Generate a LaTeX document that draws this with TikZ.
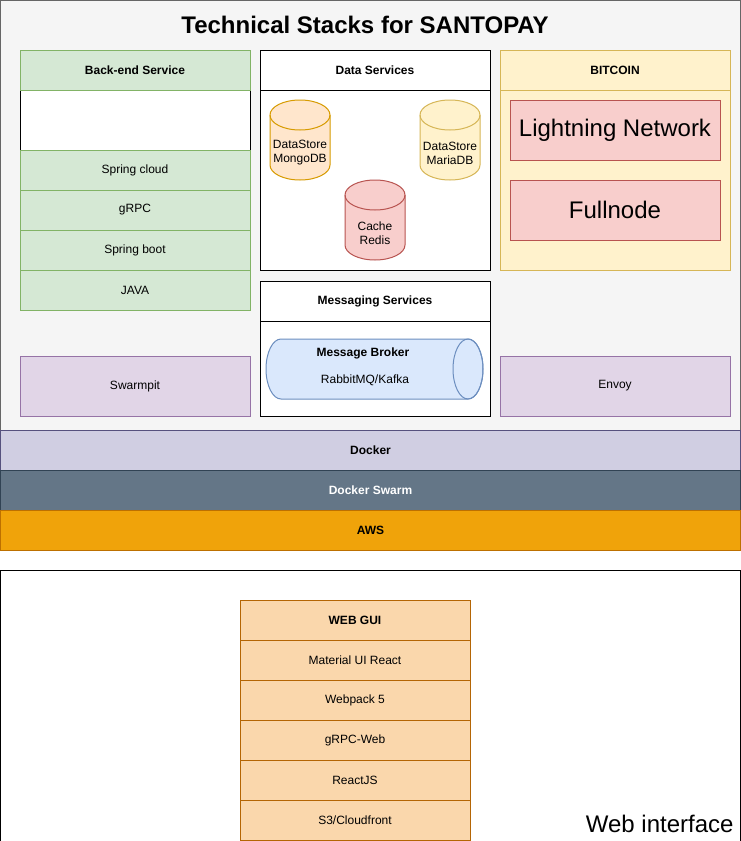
\documentclass[tikz,border=0pt]{standalone}
\usepackage{fontspec}
\setmainfont{Liberation Sans}
\begin{document}
\begin{tikzpicture}[x=1pt, y=-1pt, line width=1pt,
  box/.style={draw, minimum width=#1, minimum height=40pt, inner sep=0pt, font=\fontsize{12}{14}\selectfont},
  box/.default=230pt,
  head/.style={box=#1, font=\fontsize{12}{14}\selectfont\bfseries},
  head/.default=230pt,
  band/.style={draw, minimum width=740pt, minimum height=40pt, inner sep=0pt, font=\fontsize{12}{14}\selectfont\bfseries},
  lbl/.style={align=center, inner sep=0pt, font=\fontsize{12}{14}\selectfont}]
  \definecolor{grayfill}{HTML}{F5F5F5}
  \definecolor{graystroke}{HTML}{666666}
  \definecolor{greenfill}{HTML}{D5E8D4}
  \definecolor{greenstroke}{HTML}{82B366}
  \definecolor{yellowfill}{HTML}{FFF2CC}
  \definecolor{yellowstroke}{HTML}{D6B656}
  \definecolor{redfill}{HTML}{F8CECC}
  \definecolor{redstroke}{HTML}{B85450}
  \definecolor{orangefill}{HTML}{FFE6CC}
  \definecolor{orangestroke}{HTML}{D79B00}
  \definecolor{bluefill}{HTML}{DAE8FC}
  \definecolor{bluestroke}{HTML}{6C8EBF}
  \definecolor{purplefill}{HTML}{E1D5E7}
  \definecolor{purplestroke}{HTML}{9673A6}
  \definecolor{dockerfill}{HTML}{D0CEE2}
  \definecolor{dockerstroke}{HTML}{56517E}
  \definecolor{swarmfill}{HTML}{647687}
  \definecolor{swarmstroke}{HTML}{314354}
  \definecolor{awsfill}{HTML}{F0A30A}
  \definecolor{awsstroke}{HTML}{BD7000}
  \definecolor{webfill}{HTML}{FAD7AC}
  \definecolor{webstroke}{HTML}{B46504}
  \useasboundingbox (0,0) rectangle (741,841);

  % server side
  \draw [graystroke, fill=grayfill] (0.5,0.5) rectangle (740.5,430.5);
  \node [font=\fontsize{24}{28}\selectfont\bfseries, anchor=base] (title) at (365,33) {Technical Stacks for SANTOPAY};

  % back-end column
  \node [draw=black, fill=white, minimum width=230pt, minimum height=60pt] (blank) at (135,120) {};
  \node [head, draw=greenstroke, fill=greenfill] (backend) at (135,70) {Back-end Service};
  \node [box, draw=greenstroke, fill=greenfill] (cloud) at (135,170) {Spring cloud};
  \node [box, draw=greenstroke, fill=greenfill] (grpc) at (135,210) {gRPC};
  \node [box, draw=greenstroke, fill=greenfill] (boot) at (135,250) {Spring boot};
  \node [box, draw=greenstroke, fill=greenfill] (java) at (135,290) {JAVA};
  \node [box, draw=purplestroke, fill=purplefill, minimum height=60pt] (swarmpit) at (135,386) {Swarmpit};

  % data services
  \node [draw=black, fill=white, minimum width=230pt, minimum height=180pt] (databody) at (375,180) {};
  \node [head, fill=white] (data) at (375,70) {Data Services};
  \draw [orangestroke, fill=orangefill] (270,115) -- (270,165) arc[start angle=180, end angle=0, x radius=30, y radius=15]
    -- (330,115) arc[start angle=0, end angle=-180, x radius=30, y radius=15] -- cycle;
  \draw [orangestroke] (270,115) arc[start angle=180, end angle=0, x radius=30, y radius=15];
  \node [lbl] (mongo) at (300,153) {DataStore\\MongoDB};
  \draw [yellowstroke, fill=yellowfill] (420,115) -- (420,165) arc[start angle=180, end angle=0, x radius=30, y radius=15]
    -- (480,115) arc[start angle=0, end angle=-180, x radius=30, y radius=15] -- cycle;
  \draw [yellowstroke] (420,115) arc[start angle=180, end angle=0, x radius=30, y radius=15];
  \node [lbl] (maria) at (450,153) {DataStore\\MariaDB};
  \draw [redstroke, fill=redfill] (345,195) -- (345,245) arc[start angle=180, end angle=0, x radius=30, y radius=15]
    -- (405,195) arc[start angle=0, end angle=-180, x radius=30, y radius=15] -- cycle;
  \draw [redstroke] (345,195) arc[start angle=180, end angle=0, x radius=30, y radius=15];
  \node [lbl] (redis) at (375,233) {Cache\\Redis};

  % messaging services
  \node [draw=black, fill=white, minimum width=230pt, minimum height=95pt] (msgbody) at (375,368.5) {};
  \node [head, fill=white] (msg) at (375,301) {Messaging Services};
  \draw [bluestroke, fill=bluefill] (281,339) -- (468,339) arc[start angle=-90, end angle=90, x radius=15, y radius=30]
    -- (281,399) arc[start angle=90, end angle=270, x radius=15, y radius=30] -- cycle;
  \draw [bluestroke] (468,369) ellipse[x radius=15, y radius=30];
  \node [lbl, font=\fontsize{12}{14}\selectfont\bfseries] (broker) at (363,353) {Message Broker};
  \node [lbl] (kafka) at (365,380) {RabbitMQ/Kafka};

  % bitcoin column
  \node [draw=yellowstroke, fill=yellowfill, minimum width=230pt, minimum height=180pt] (btcbody) at (615,180) {};
  \node [head, draw=yellowstroke, fill=yellowfill] (btc) at (615,70) {BITCOIN};
  \node [box=210pt, minimum height=60pt, draw=redstroke, fill=redfill, font=\fontsize{24}{28}\selectfont] (lightning) at (615,130) {Lightning Network};
  \node [box=210pt, minimum height=60pt, draw=redstroke, fill=redfill, font=\fontsize{24}{28}\selectfont] (fullnode) at (615,210) {Fullnode};
  \node [box, draw=purplestroke, fill=purplefill, minimum height=60pt] (envoy) at (615,386) {Envoy};

  % infrastructure
  \node [band, draw=dockerstroke, fill=dockerfill] (docker) at (370.5,450) {Docker};
  \node [band, draw=swarmstroke, fill=swarmfill, text=white] (swarm) at (370.5,490) {Docker Swarm};
  \node [band, draw=awsstroke, fill=awsfill] (aws) at (370.5,530) {AWS};

  % web interface
  \draw [black, fill=white] (0.5,570.5) rectangle (740.5,841);
  \node [head, draw=webstroke, fill=webfill] (webgui) at (355,620) {WEB GUI};
  \node [box, draw=webstroke, fill=webfill] (mui) at (355,660) {Material UI React};
  \node [box, draw=webstroke, fill=webfill] (webpack) at (355,700) {Webpack 5};
  \node [box, draw=webstroke, fill=webfill] (grpcweb) at (355,740) {gRPC-Web};
  \node [box, draw=webstroke, fill=webfill] (react) at (355,780) {ReactJS};
  \node [box, draw=webstroke, fill=webfill] (s3) at (355,820) {S3/Cloudfront};
  \node [font=\fontsize{24}{28}\selectfont, anchor=base east, inner sep=0pt] (web) at (734,832) {Web interface};
\end{tikzpicture}
\end{document}
